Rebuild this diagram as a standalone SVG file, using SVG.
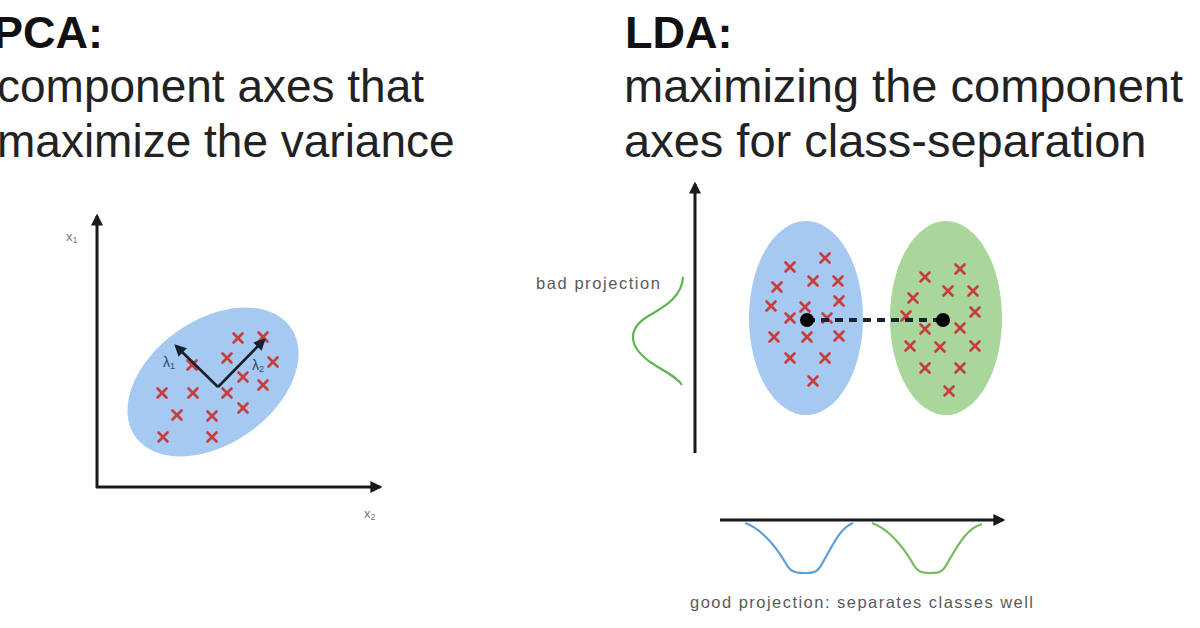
<svg xmlns="http://www.w3.org/2000/svg" xmlns:xlink="http://www.w3.org/1999/xlink" width="1200" height="628" viewBox="0 0 1200 628">
<style>
.title{font-family:"Liberation Sans",Arial,sans-serif;font-weight:bold;font-size:45px;fill:#111}
.body{font-family:"Liberation Sans",Arial,sans-serif;font-size:46px;fill:#222}
.small{font-family:"Liberation Sans",Arial,sans-serif;font-size:16.5px;fill:#5a5a5a}
.tiny{font-family:"Liberation Sans",Arial,sans-serif;font-size:13px;fill:#777}
.lam{font-family:"Liberation Sans",Arial,sans-serif;font-size:14px;fill:#2b4a7a}
.axis{stroke:#1a1a1a;stroke-width:3;fill:none}
.cross{stroke:#c83c3c;stroke-width:2.6;stroke-linecap:round}
.vec{stroke:#14202e;stroke-width:2.6;fill:none}
</style>
<defs>
<marker id="ah" viewBox="0 0 10 10" refX="8" refY="5" markerWidth="4" markerHeight="4" orient="auto">
<path d="M0,0 L10,5 L0,10 z" fill="#1a1a1a"/>
</marker>
<marker id="vh" viewBox="0 0 10 10" refX="8" refY="5" markerWidth="4.5" markerHeight="4.5" orient="auto">
<path d="M0,0 L10,5 L0,10 z" fill="#14202e"/>
</marker>
<g id="x"><line class="cross" x1="-4.5" y1="-4.5" x2="4.5" y2="4.5"/><line class="cross" x1="-4.5" y1="4.5" x2="4.5" y2="-4.5"/></g>
</defs>
<rect width="1200" height="628" fill="#fff"/>

<g id="pca-text">
<text class="title" x="-7" y="48">PCA:</text>
<text class="body" x="-3" y="102">component axes that</text>
<text class="body" x="-3" y="157">maximize the variance</text>
</g>

<g id="lda-text">
<text class="title" x="625" y="48">LDA:</text>
<text class="body" x="624" y="102" style="font-size:47px">maximizing the component</text>
<text class="body" x="624" y="157" style="font-size:47px">axes for class-separation</text>
</g>

<g id="pca-plot">
<ellipse cx="213" cy="382" rx="95" ry="62" transform="rotate(-35 213 382)" fill="#a6c9f1"/>
<g id="pca-points">
<use xlink:href="#x" x="238" y="338"/>
<use xlink:href="#x" x="263" y="337"/>
<use xlink:href="#x" x="227" y="358"/>
<use xlink:href="#x" x="273" y="362"/>
<use xlink:href="#x" x="192" y="365"/>
<use xlink:href="#x" x="243" y="377"/>
<use xlink:href="#x" x="263" y="385"/>
<use xlink:href="#x" x="162" y="393"/>
<use xlink:href="#x" x="193" y="393"/>
<use xlink:href="#x" x="227" y="393"/>
<use xlink:href="#x" x="243" y="408"/>
<use xlink:href="#x" x="177" y="415"/>
<use xlink:href="#x" x="212" y="416"/>
<use xlink:href="#x" x="163" y="437"/>
<use xlink:href="#x" x="212" y="437"/>
</g>
<text class="tiny" x="66" y="241">x<tspan font-size="9" dy="2">1</tspan></text>
<text class="tiny" x="364" y="518">x<tspan font-size="9" dy="2">2</tspan></text>
<text class="lam" x="163" y="367">λ<tspan font-size="9" dy="2">1</tspan></text>
<text class="lam" x="252" y="370">λ<tspan font-size="9" dy="2">2</tspan></text>
</g>

<g id="lda-plot">
<ellipse cx="806" cy="318" rx="57" ry="97" fill="#a6c9f1"/>
<ellipse cx="946" cy="318" rx="56" ry="97" fill="#a9d69b"/>
<g id="blue-points">
<use xlink:href="#x" x="825" y="258"/>
<use xlink:href="#x" x="790" y="267"/>
<use xlink:href="#x" x="813" y="281"/>
<use xlink:href="#x" x="838" y="281"/>
<use xlink:href="#x" x="777" y="287"/>
<use xlink:href="#x" x="771" y="306"/>
<use xlink:href="#x" x="805" y="307"/>
<use xlink:href="#x" x="839" y="301"/>
<use xlink:href="#x" x="790" y="318"/>
<use xlink:href="#x" x="827" y="318"/>
<use xlink:href="#x" x="774" y="337"/>
<use xlink:href="#x" x="807" y="337"/>
<use xlink:href="#x" x="839" y="336"/>
<use xlink:href="#x" x="790" y="358"/>
<use xlink:href="#x" x="825" y="358"/>
<use xlink:href="#x" x="813" y="381"/>
</g>
<g id="green-points">
<use xlink:href="#x" x="960" y="269"/>
<use xlink:href="#x" x="925" y="277"/>
<use xlink:href="#x" x="948" y="291"/>
<use xlink:href="#x" x="973" y="291"/>
<use xlink:href="#x" x="913" y="298"/>
<use xlink:href="#x" x="975" y="312"/>
<use xlink:href="#x" x="906" y="316"/>
<use xlink:href="#x" x="925" y="329"/>
<use xlink:href="#x" x="960" y="328"/>
<use xlink:href="#x" x="910" y="346"/>
<use xlink:href="#x" x="940" y="347"/>
<use xlink:href="#x" x="975" y="346"/>
<use xlink:href="#x" x="925" y="368"/>
<use xlink:href="#x" x="960" y="368"/>
<use xlink:href="#x" x="949" y="391"/>
</g>
<line x1="807" y1="320" x2="943" y2="320" stroke="#17232d" stroke-width="4" stroke-dasharray="8 6"/>
<circle cx="807" cy="320" r="7" fill="#000"/>
<circle cx="943" cy="320" r="7" fill="#000"/>
<path d="M683,277 C682,295 668,305 650,315 C636,323 633,330 633,337 C633,345 637,352 650,362 C667,373 678,378 682,385" fill="none" stroke="#5cb44e" stroke-width="2.2"/>
<text class="small" x="536" y="289" textLength="124" lengthAdjust="spacing">bad projection</text>
<path d="M745,523 C760,528 775,545 785,562 C790,572 795,573 805,573 C815,573 818,572 823,562 C833,545 840,528 853,523" fill="none" stroke="#5d9fd8" stroke-width="2.2"/>
<path d="M872,523 C887,528 902,545 912,562 C917,572 922,573 930,573 C940,573 943,572 948,562 C958,545 967,528 982,524" fill="none" stroke="#78bb5c" stroke-width="2.2"/>
<text class="small" x="690" y="608" textLength="343" lengthAdjust="spacing">good projection: separates classes well</text>
</g>

<g id="connectors">
<line class="axis" x1="97" y1="488" x2="97" y2="216" marker-end="url(#ah)"/>
<line class="axis" x1="96" y1="487" x2="380" y2="487" marker-end="url(#ah)"/>
<line class="axis" x1="695" y1="453" x2="695" y2="184" marker-end="url(#ah)"/>
<line class="axis" x1="720" y1="520" x2="1003" y2="520" marker-end="url(#ah)"/>
<line class="vec" x1="218" y1="387" x2="176" y2="346" marker-end="url(#vh)"/>
<line class="vec" x1="218" y1="387" x2="264" y2="340" marker-end="url(#vh)"/>
</g>
</svg>
